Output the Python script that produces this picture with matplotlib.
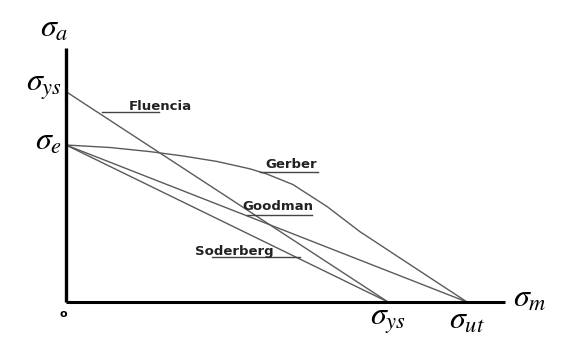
import matplotlib
matplotlib.use("Agg")
import matplotlib.pyplot as plt

plt.rcParams['mathtext.fontset'] = 'stix'

# Key stresses (sigma_m normalised to sigma_ut, sigma_a normalised to sigma_e)
sigma_ut = 1.0
sigma_ys_m = 0.803
sigma_e = 1.0
sigma_ys_a = 1.34

# Criteria lines
fluencia_m = [0.0, sigma_ys_m]
fluencia_a = [sigma_ys_a, 0.0]
goodman_m = [0.0, sigma_ut]
goodman_a = [sigma_e, 0.0]
soderberg_m = [0.0, sigma_ys_m]
soderberg_a = [sigma_e, 0.0]
gerber_m = [0.0, 0.110, 0.209, 0.292, 0.377, 0.459, 0.501, 0.566, 0.651, 0.733, 0.833, 1.0]
gerber_a = [1.0, 0.984, 0.958, 0.930, 0.895, 0.848, 0.815, 0.748, 0.608, 0.448, 0.280, 0.0]

fig = plt.figure(figsize=(5.74, 3.43), dpi=100)
ax = fig.add_axes([0, 0, 1, 1])
ax.set_xlim(-66/401, (574-66)/401)
ax.set_ylim(-(343-302)/157, 302/157)
ax.axis('off')

lc = '#5a5a5a'
lw = 1.0
ax.plot(fluencia_m, fluencia_a, color=lc, lw=lw)
ax.plot(goodman_m, goodman_a, color=lc, lw=lw)
ax.plot(soderberg_m, soderberg_a, color=lc, lw=lw)
ax.plot(gerber_m, gerber_a, color=lc, lw=lw)

# axes
ax.plot([0, 0], [0, (302-48)/157], color='black', lw=2.4, solid_capstyle='butt')
ax.plot([0, (505-66)/401], [0, 0], color='black', lw=2.2, solid_capstyle='butt')

def px(x):
    return (x-66)/401
def py(y):
    return (302-y)/157

fs = 23
ax.text(px(54), py(28), r'$\sigma_a$', fontsize=fs, ha='center', va='center')
ax.text(px(62), py(86), r'$\sigma_{ys}$', fontsize=fs, ha='right', va='center')
ax.text(px(62), py(141), r'$\sigma_e$', fontsize=fs, ha='right', va='center')
ax.text(sigma_ys_m, py(320), r'$\sigma_{ys}$', fontsize=fs, ha='center', va='center')
ax.text(sigma_ut, py(320), r'$\sigma_{ut}$', fontsize=fs, ha='center', va='center')
ax.text(px(513), py(298), r'$\sigma_m$', fontsize=fs, ha='left', va='center')
ax.text(px(63), py(314), 'o', fontsize=8, fontweight='bold', ha='center', va='center')

lab_fs = 9.5
labels = [
    ('Fluencia', 129, 107, 102, 159, 112),
    ('Gerber', 265, 164, 260, 318, 172),
    ('Goodman', 242, 206, 247, 312, 215),
    ('Soderberg', 195, 252, 212, 300, 257),
]
for t, tx, ty, x0, x1, uy in labels:
    ax.text(px(tx), py(ty), t, fontsize=lab_fs, fontweight='bold', ha='left', va='center', color='#222222')
    ax.plot([px(x0), px(x1)], [py(uy), py(uy)], color='#444444', lw=1.0)

fig.savefig('out.png', dpi=100)
